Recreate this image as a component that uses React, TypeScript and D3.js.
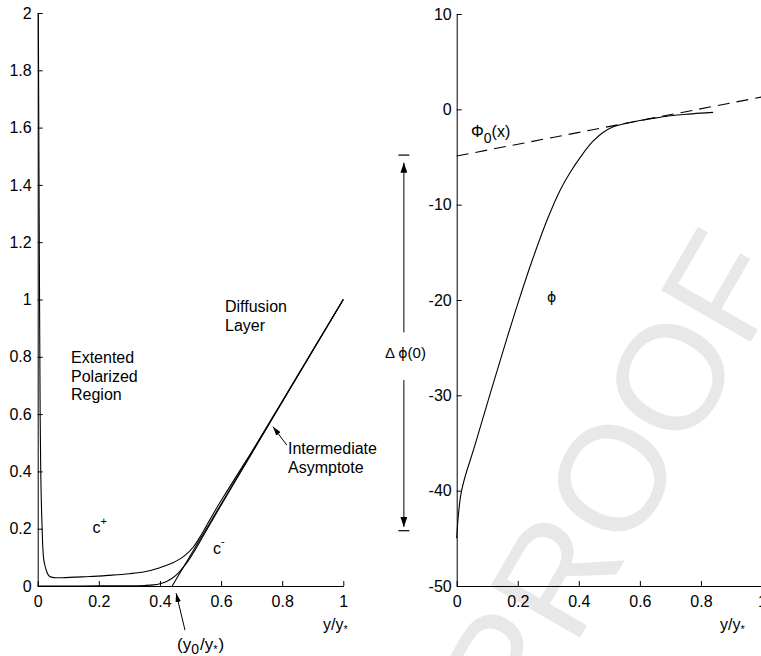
import React, { useEffect, useRef } from 'react';
import * as d3 from 'd3';

// ---- left panel: concentration profiles c+ / c- (x = y/y*)
const cPlusX = [0.002, 0.004, 0.006, 0.008, 0.010, 0.013, 0.016, 0.019, 0.023, 0.028, 0.035, 0.045, 0.06, 0.08, 0.12, 0.17, 0.23, 0.30, 0.35, 0.40, 0.44, 0.48, 0.51, 0.535, 0.56, 0.59, 0.62, 0.66, 0.70, 0.80, 0.90, 1.0];
const cPlusY = [2.0, 1.5, 1.0, 0.6, 0.4, 0.25, 0.15, 0.10, 0.075, 0.055, 0.038, 0.031, 0.029, 0.029, 0.031, 0.033, 0.037, 0.043, 0.05, 0.064, 0.08, 0.105, 0.137, 0.178, 0.225, 0.28, 0.332, 0.40, 0.468, 0.645, 0.823, 1.0];

const cMinusX = [0, 0.1, 0.2, 0.3, 0.35, 0.38, 0.40, 0.42, 0.44, 0.46, 0.48, 0.5, 0.55, 0.6, 0.7, 0.8, 0.9, 1.0];
const cMinusY = [0, 0, 0.0005, 0.001, 0.002, 0.004, 0.008, 0.015, 0.027, 0.045, 0.07, 0.10, 0.19, 0.282, 0.462, 0.642, 0.821, 1.0];

const asymX = [0.44, 1.0];
const asymY = [0, 1.0];

// ---- right panel: potential phi and outer solution Phi0(x)
const phiX = [0, 0.016, 0.06, 0.11, 0.16, 0.2, 0.25, 0.3, 0.34, 0.37, 0.41, 0.445, 0.478, 0.511, 0.55, 0.6, 0.653, 0.7, 0.75, 0.8, 0.84];
const phiY = [-45, -40, -35.2, -29.8, -24.5, -20.4, -15.6, -11.3, -8.4, -6.7, -4.8, -3.4, -2.45, -1.85, -1.5, -1.17, -0.9, -0.68, -0.52, -0.4, -0.32];

const phi0X = [0, 1];
const phi0Y = [-4.9, 1.3];

// ---- ticks
const leftYTicks = [0, 0.2, 0.4, 0.6, 0.8, 1, 1.2, 1.4, 1.6, 1.8, 2];
const leftYLabels = ['0', '0.2', '0.4', '0.6', '0.8', '1', '1.2', '1.4', '1.6', '1.8', '2'];
const xTicks = [0, 0.2, 0.4, 0.6, 0.8, 1];
const xLabels = ['0', '0.2', '0.4', '0.6', '0.8', '1'];
const rightYTicks = [-50, -40, -30, -20, -10, 0, 10];
const rightYLabels = ['-50', '-40', '-30', '-20', '-10', '0', '10'];

// annotation anchors (data units)
const asymArrowFrom = [0.815, 0.492];
const asymArrowTo = [0.77, 0.556];
const y0ArrowFrom = [0.482, -0.154];
const y0ArrowTo = [0.453, -0.025];
const dPhiX = -0.173;
const dPhiUp = [-23.4, -5.6];
const dPhiDown = [-28.4, -43.8];
const dPhiBars = [-4.8, -44.2];

const FONT = '"Liberation Sans", Arial, Helvetica, sans-serif';
const PHI_FONT = '"DejaVu Sans", "Liberation Sans", sans-serif';
const W = 761;
const H = 656;

const App: React.FC = () => {
  const svgRef = useRef<SVGSVGElement>(null);

  useEffect(() => {
    if (!svgRef.current) return;
    const svg = d3.select(svgRef.current);
    svg.selectAll('*').remove();

    // scales
    const xL = d3.scaleLinear().domain([0, 1]).range([37.7, 343.3]);
    const yL = d3.scaleLinear().domain([0, 2]).range([586, 13]);
    const xR = d3.scaleLinear().domain([0, 1]).range([456.7, 762]);
    const yR = d3.scaleLinear().domain([-50, 10]).range([586, 14]);

    // arrow heads
    const defs = svg.append('defs');
    const addMarker = (id: string, len: number, wid: number) => {
      defs.append('marker')
        .attr('id', id)
        .attr('viewBox', `0 0 ${len} ${wid}`)
        .attr('refX', len)
        .attr('refY', wid / 2)
        .attr('markerWidth', len)
        .attr('markerHeight', wid)
        .attr('markerUnits', 'userSpaceOnUse')
        .attr('orient', 'auto')
        .append('path')
        .attr('d', `M0,0L${len},${wid / 2}L0,${wid}Z`)
        .attr('fill', '#000');
    };
    addMarker('headBig', 10, 7);
    addMarker('headSmall', 9, 5.5);

    // watermark
    svg.append('text')
      .attr('transform', 'translate(612,478) rotate(-60)')
      .attr('text-anchor', 'middle')
      .attr('dominant-baseline', 'central')
      .attr('font-family', FONT)
      .attr('font-size', 150)
      .attr('fill', '#e8e8e8')
      .text('PROOF');

    // axes
    const styleAxis = (g: any) => {
      g.attr('font-size', 16).attr('font-family', FONT);
      g.selectAll('path, line').attr('stroke', '#000');
      g.selectAll('text').attr('fill', '#000');
    };

    const axL = svg.append('g').attr('transform', `translate(${xL(0)},0)`)
      .call(d3.axisLeft(yL).tickValues(leftYTicks)
        .tickFormat((_d, i) => leftYLabels[i])
        .tickSizeInner(-5).tickSizeOuter(0).tickPadding(6));
    styleAxis(axL);

    const axLB = svg.append('g').attr('transform', `translate(0,${yL(0)})`)
      .call(d3.axisBottom(xL).tickValues(xTicks)
        .tickFormat((_d, i) => xLabels[i])
        .tickSizeInner(-5).tickSizeOuter(0).tickPadding(10));
    styleAxis(axLB);

    const axR = svg.append('g').attr('transform', `translate(${xR(0)},0)`)
      .call(d3.axisLeft(yR).tickValues(rightYTicks)
        .tickFormat((_d, i) => rightYLabels[i])
        .tickSizeInner(-5).tickSizeOuter(0).tickPadding(5));
    styleAxis(axR);

    const axRB = svg.append('g').attr('transform', `translate(0,${yR(-50)})`)
      .call(d3.axisBottom(xR).tickValues(xTicks)
        .tickFormat((_d, i) => xLabels[i])
        .tickSizeInner(-5).tickSizeOuter(0).tickPadding(10));
    styleAxis(axRB);

    // curves
    const drawLine = (
      xs: number[], ys: number[],
      sx: d3.ScaleLinear<number, number>, sy: d3.ScaleLinear<number, number>,
      dash?: string, curve: d3.CurveFactory = d3.curveMonotoneX,
    ) => {
      const line = d3.line<[number, number]>()
        .x(d => sx(d[0]))
        .y(d => sy(d[1]))
        .curve(curve);
      svg.append('path')
        .datum(d3.zip(xs, ys) as [number, number][])
        .attr('d', line)
        .attr('fill', 'none')
        .attr('stroke', '#000')
        .attr('stroke-width', 1.1)
        .attr('stroke-dasharray', dash ?? null);
    };

    drawLine(cPlusX, cPlusY, xL, yL);
    drawLine(cMinusX, cMinusY, xL, yL);
    drawLine(asymX, asymY, xL, yL, undefined, d3.curveLinear);
    drawLine(phiX, phiY, xR, yR, undefined, d3.curveCatmullRom.alpha(0.5));
    drawLine(phi0X, phi0Y, xR, yR, '12,7', d3.curveLinear);

    // arrows
    const arrow = (x1: number, y1: number, x2: number, y2: number, head: string) => {
      svg.append('line')
        .attr('x1', x1).attr('y1', y1).attr('x2', x2).attr('y2', y2)
        .attr('stroke', '#000').attr('stroke-width', 1)
        .attr('marker-end', `url(#${head})`);
    };
    arrow(xL(asymArrowFrom[0]), yL(asymArrowFrom[1]), xL(asymArrowTo[0]), yL(asymArrowTo[1]), 'headSmall');
    arrow(xL(y0ArrowFrom[0]), yL(y0ArrowFrom[1]), xL(y0ArrowTo[0]), yL(y0ArrowTo[1]), 'headSmall');
    arrow(xR(dPhiX), yR(dPhiUp[0]), xR(dPhiX), yR(dPhiUp[1]), 'headBig');
    arrow(xR(dPhiX), yR(dPhiDown[0]), xR(dPhiX), yR(dPhiDown[1]), 'headBig');
    dPhiBars.forEach(v => {
      svg.append('line')
        .attr('x1', xR(dPhiX) - 5.5).attr('x2', xR(dPhiX) + 5.5)
        .attr('y1', yR(v)).attr('y2', yR(v))
        .attr('stroke', '#000').attr('stroke-width', 1.2);
    });

    // text annotations
    const label = (x: number, y: number, size = 16, family = FONT) =>
      svg.append('text')
        .attr('x', x).attr('y', y)
        .attr('font-family', family)
        .attr('font-size', size)
        .attr('fill', '#000');

    label(225, 312).text('Diffusion');
    label(225, 331).text('Layer');
    label(71, 363).text('Extented');
    label(71, 382).text('Polarized');
    label(71, 400).text('Region');
    label(288, 454).text('Intermediate');
    label(288, 473).text('Asymptote');

    const cp = label(92.5, 533).text('c');
    cp.append('tspan').attr('font-size', 11).attr('dy', -8).text('+');
    const cm = label(213, 554).text('c');
    cm.append('tspan').attr('font-size', 11).attr('dy', -9).text('-');

    const yy = label(323, 630).text('y/y');
    yy.append('tspan').attr('font-size', 11).attr('dy', 3).text('*');
    const yyR = label(720, 630).text('y/y');
    yyR.append('tspan').attr('font-size', 11).attr('dy', 3).text('*');

    const y0 = label(177, 650, 17).text('(y');
    y0.append('tspan').attr('font-size', 14).attr('dy', 4).text('0');
    y0.append('tspan').attr('dy', -4).attr('dx', 1).text('/y');
    y0.append('tspan').attr('font-size', 11).attr('dy', 3).text('*');
    y0.append('tspan').attr('dy', -3).attr('dx', 1).text(')');

    const p0 = label(471, 137).text('Φ');
    p0.append('tspan').attr('font-size', 14).attr('dy', 6).text('0');
    p0.append('tspan').attr('dy', -6).text('(x)');

    label(547, 302, 14, PHI_FONT).text('ϕ');
    const dp = label(385, 358, 15).text('Δ ');
    dp.append('tspan').attr('font-family', PHI_FONT).attr('font-size', 14).text('ϕ');
    dp.append('tspan').text('(0)');
  }, []);

  return (
    <svg
      ref={svgRef}
      width={W}
      height={H}
      style={{ position: 'absolute', left: 0, top: 0, background: '#fff' }}
    />
  );
};

export default App;
